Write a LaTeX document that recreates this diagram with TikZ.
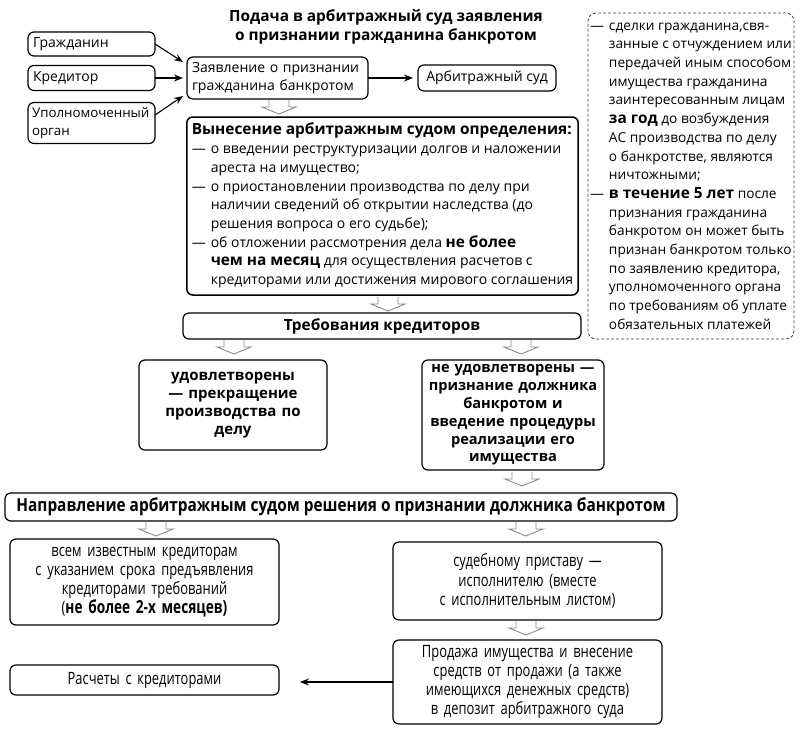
\documentclass[tikz,border=0pt]{standalone}
\usepackage{fontspec}
\setmainfont{Open Sans}
\newfontfamily\condf[FakeStretch=0.76]{Open Sans}
\newfontfamily\condb[FakeStretch=0.855]{Open Sans}
\usetikzlibrary{calc,arrows.meta}
\newcommand\fsA{\fontsize{14}{18.7}\selectfont}
\newcommand\fsE{\fontsize{13.7}{18.7}\selectfont}
\newcommand\fsB{\fontsize{15.4}{18.7}\selectfont}
\newcommand\fsD{\fontsize{15}{18}\selectfont}
\newcommand\fsN{\fontsize{18}{20}\selectfont}
\newcommand\fsC{\fontsize{17}{19.2}\selectfont}
\newcommand\fsCB{\fontsize{18}{19.2}\selectfont}
\begin{document}
\begin{tikzpicture}[x=1pt,y=-1pt,
  every node/.style={inner sep=0pt,outer sep=0pt},
  box/.style={draw,line width=1.2pt,rounded corners=6pt,inner xsep=5pt,font=\fsA},
  dbox/.style={draw=black!75,line width=0.8pt,dash pattern=on 3pt off 2pt,rounded corners=8pt,font=\fsE},
  arr/.style={line width=1.1pt,-{Stealth[length=9pt,width=7pt]}},
  harrow/.pic={\draw[black!45,line width=0.9pt,line join=miter] (-10,0) -- (-10,7) -- (-17,7) -- (0,14) -- (17,7) -- (10,7) -- (10,0);}
]
\useasboundingbox[fill=white] (0,0) rectangle (807,737);

\node[font=\bfseries\fsB,align=center] (title) at (386,27) {Подача в арбитражный суд заявления\\о признании гражданина банкротом};

\node[box,minimum width=127pt,minimum height=24pt,text width=117pt,align=left] (grazh) at (91.5,44) {Гражданин};
\node[box,minimum width=127pt,minimum height=25pt,text width=117pt,align=left] (kred) at (91.5,78) {Кредитор};
\node[box,font=\fontsize{13.3}{18}\selectfont,inner xsep=4pt,minimum width=127pt,minimum height=41pt,text width=119pt,align=left] (upoln) at (91.5,123) {Уполномоченный\\орган};
\node[box,minimum width=181pt,minimum height=42pt,text width=171pt,align=left] (zayav) at (277.5,78) {Заявление о признании\\гражданина банкротом};
\node[box,minimum width=138pt,minimum height=26pt] (arb) at (487,78) {Арбитражный суд};

\draw[arr] (grazh.east) -- ($(zayav.west)+(-4,-16)$);
\draw[arr] (kred.east) -- ($(zayav.west)+(-4,0)$);
\draw[arr] ($(upoln.east)+(0,-8)$) -- ($(zayav.west)+(-4,18)$);
\draw[arr,shorten >=5pt] (zayav.east) -- (arb.west);

\node[dbox,minimum width=206pt,minimum height=326pt] (note) at (691,176) {\begin{tabular}{@{}l@{\hspace{5pt}}l@{}}
— & сделки гражданина,свя-\\
 & занные с отчуждением или\\
 & передачей иным способом\\
 & имущества гражданина\\
 & заинтересованным лицам\\
 & {\fsB\bfseries за год} до возбуждения\\
 & АС производства по делу\\
 & о банкротстве, являются\\
 & ничтожными;\\
— & {\fsB\bfseries в течение 5 лет} после\\
 & признания гражданина\\
 & банкротом он может быть\\
 & признан банкротом только\\
 & по заявлению кредитора,\\
 & уполномоченного органа\\
 & по требованиям об уплате\\
 & обязательных платежей
\end{tabular}};

\node[box,line width=1.5pt,minimum width=391pt,minimum height=178pt] (vyn) at (382.5,206) {\begin{tabular}{@{}l@{\hspace{5pt}}l@{}}
\multicolumn{2}{@{}l@{}}{\fsB\bfseries Вынесение арбитражным судом определения:}\\
— & о введении реструктуризации долгов и наложении\\
 & ареста на имущество;\\
— & о приостановлении производства по делу при\\
 & наличии сведений об открытии наследства (до\\
 & решения вопроса о его судьбе);\\
— & об отложении рассмотрения дела {\fsB\bfseries не более}\\
 & {\fsB\bfseries чем на месяц} для осуществления расчетов с\\
 & кредиторами или достижения мирового соглашения
\end{tabular}};

\node[box,font=\bfseries\fsB,minimum width=398pt,minimum height=26pt] (treb) at (382,326) {Требования кредиторов};

\node[box,font=\bfseries\fsD,align=center,minimum width=188pt,minimum height=90pt,text width=178pt] (udov) at (233,405) {удовлетворены\\— прекращение\\производства по\\делу};
\node[box,font=\bfseries\fontsize{14.6}{17.8}\selectfont,inner xsep=1pt,align=center,minimum width=182pt,minimum height=110pt,text width=180pt] (neudov) at (513,415) {не удовлетворены —\\признание должника\\банкротом и\\введение процедуры\\реализации его\\имущества};

\node[box,font=\condb\bfseries\fsN,minimum width=672pt,minimum height=28pt] (napr) at (341,507) {Направление арбитражным судом решения о признании должника банкротом};

\node[box,font=\condf\fsC,align=center,minimum width=269pt,minimum height=86pt,text width=259pt] (vsem) at (144.5,582) {всем известным кредиторам\\с указанием срока предъявления\\кредиторами требований\\({\fsCB\bfseries не более 2-х месяцев)}};
\node[box,font=\condf\fsC,align=center,minimum width=269pt,minimum height=78pt,text width=259pt] (sud) at (527.5,581) {судебному приставу —\\исполнителю (вместе\\с исполнительным листом)};
\node[box,font=\condf\fsC,align=center,minimum width=269pt,minimum height=84pt,text width=259pt] (prod) at (527.5,682) {Продажа имущества и внесение\\средств от продажи (а также\\имеющихся денежных средств)\\в депозит арбитражного суда};
\node[box,font=\condf\fsC,align=center,minimum width=269pt,minimum height=30pt,text width=259pt] (rasch) at (144.5,680) {Расчеты с кредиторами};

\draw[arr,shorten >=21pt] (prod.west) -- (prod.west -| rasch.east);

\pic at (279,100) {harrow};
\pic at (388,297) {harrow};
\pic at (234,340) {harrow};
\pic at (521,340) {harrow};
\pic at (522,472) {harrow};
\pic at (156,522) {harrow};
\pic at (526,522) {harrow};
\pic at (526,621) {harrow};
\end{tikzpicture}
\end{document}
